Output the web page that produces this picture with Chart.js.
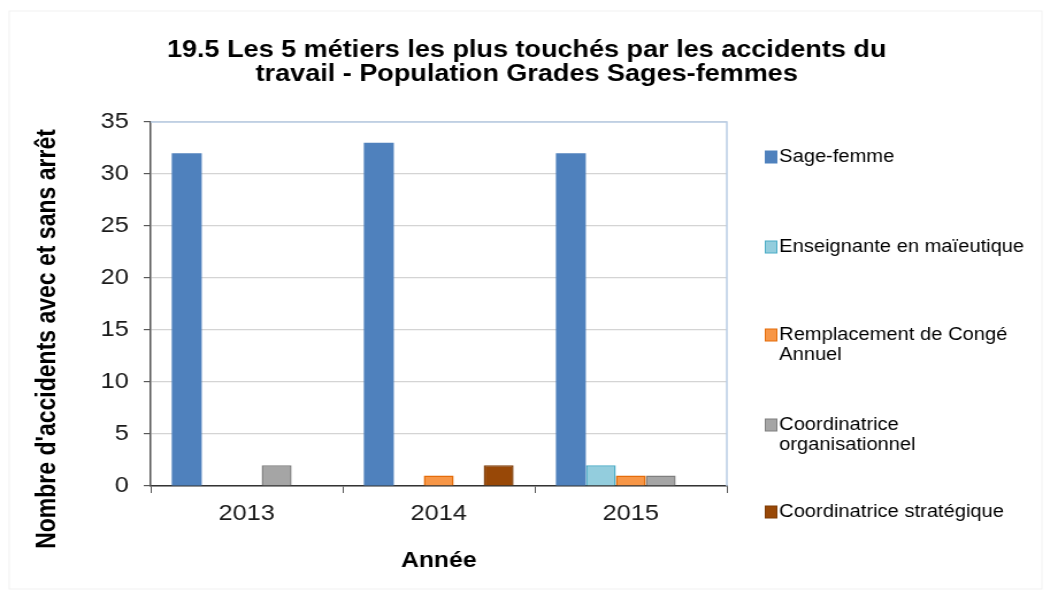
<!DOCTYPE html>
<html lang="fr">
<head>
<meta charset="utf-8">
<title>19.5 Les 5 métiers les plus touchés par les accidents du travail</title>
<script src="https://cdn.jsdelivr.net/npm/chart.js@4.4.1/dist/chart.umd.min.js"></script>
<style>
  html, body { margin: 0; padding: 0; background: #fff; overflow: hidden; }
  /* the original picture is a little wider than tall in its glyphs, so the whole chart is stretched */
  #wrap { width: 915px; height: 598px; transform: scaleX(1.15); transform-origin: 0 0; }
</style>
</head>
<body>
<div id="wrap"><canvas id="chart" width="915" height="598"></canvas></div>
<script>
const years = ['2013', '2014', '2015'];
const sageFemme = [32, 33, 32];
const enseignante = [0, 0, 2];
const remplacement = [0, 1, 1];
const coordOrganisation = [2, 0, 1];
const coordStrategique = [0, 2, 0];
const seriesNames = [
  'Sage-femme',
  'Enseignante en maïeutique',
  ['Remplacement de Congé', 'Annuel'],
  ['Coordinatrice', 'organisationnel'],
  'Coordinatrice stratégique'
];
const yTickValues = [0, 5, 10, 15, 20, 25, 30, 35];

const titleLines = ['19.5 Les 5 métiers les plus touchés par les accidents du', 'travail - Population Grades Sages-femmes'];
const yTitle = "Nombre d'accidents avec et sans arrêt";
const xTitle = 'Année';

const fillColors = ['#4F81BD', '#93CDDD', '#F79646', '#A5A5A5', '#984807'];
const edgeColors = ['#4F81BD', '#4BACC6', '#E46C0A', '#7F7F7F', '#7F3C06'];

const seriesValues = [sageFemme, enseignante, remplacement, coordOrganisation, coordStrategique];

const textPlugin = {
  id: 'textPlugin',
  beforeDatasetsDraw(chart) {
    const { ctx, chartArea: a } = chart;
    ctx.save();
    ctx.strokeStyle = '#B9CDE5';
    ctx.lineWidth = 1.5;
    ctx.beginPath();
    ctx.moveTo(a.left, a.top);
    ctx.lineTo(a.right, a.top);
    ctx.lineTo(a.right, a.bottom);
    ctx.stroke();
    ctx.restore();
  },
  afterDraw(chart) {
    const ctx = chart.ctx;
    ctx.save();

    // faint outer frame
    ctx.strokeStyle = '#f1f1f1';
    ctx.lineWidth = 1;
    ctx.strokeRect(8, 11, 898, 578);

    // main title
    ctx.fillStyle = '#000';
    ctx.textAlign = 'center';
    ctx.textBaseline = 'alphabetic';
    ctx.font = 'bold 23.5px "Liberation Sans", Arial, sans-serif';
    ctx.fillText(titleLines[0], 458, 57);
    ctx.fillText(titleLines[1], 458, 81);

    // y axis title
    ctx.save();
    ctx.translate(42, 339);
    ctx.rotate(-Math.PI / 2);
    ctx.textBaseline = 'middle';
    ctx.font = 'bold 23px "Liberation Sans", Arial, sans-serif';
    ctx.fillText(yTitle, 0, 0);
    ctx.restore();

    // legend
    const rowY = [157, 247, 335, 425, 512];
    ctx.textAlign = 'left';
    ctx.textBaseline = 'middle';
    ctx.font = '17.5px "Liberation Sans", Arial, sans-serif';
    chart.data.datasets.forEach((ds, i) => {
      const y = rowY[i];
      ctx.fillStyle = ds.backgroundColor;
      ctx.fillRect(665.5, y - 6, 10, 12);
      ctx.strokeStyle = ds.borderColor;
      ctx.lineWidth = 1;
      ctx.strokeRect(665.5, y - 6, 10, 12);
      ctx.fillStyle = '#000';
      const lines = Array.isArray(ds.label) ? ds.label : [ds.label];
      lines.forEach((t, k) => ctx.fillText(t, 677.5, y + k * 20));
    });

    ctx.restore();
  }
};

new Chart(document.getElementById('chart'), {
  type: 'bar',
  data: {
    labels: years,
    datasets: seriesValues.map((vals, i) => ({
      label: seriesNames[i],
      data: vals,
      backgroundColor: fillColors[i],
      borderColor: edgeColors[i],
      borderWidth: i === 0 ? 0 : 1.5,
      categoryPercentage: 0.78,
      barPercentage: 1
    }))
  },
  options: {
    responsive: false,
    animation: false,
    devicePixelRatio: 1,
    layout: { padding: { left: 0, right: 283, top: 122, bottom: 0 } },
    plugins: {
      legend: { display: false },
      title: { display: false },
      tooltip: { enabled: false }
    },
    scales: {
      x: {
        afterFit(scale) { scale.height = 112; },
        grid: { drawOnChartArea: false, drawTicks: true, tickLength: 7, color: '#595959', offset: true },
        border: { display: true, color: '#333333', width: 1.5 },
        ticks: {
          color: '#1a1a1a',
          padding: 8,
          font: { family: '"Liberation Sans", Arial, sans-serif', size: 22 }
        },
        title: {
          display: true,
          text: xTitle,
          color: '#000',
          padding: { top: 0, bottom: 24 },
          font: { family: '"Liberation Sans", Arial, sans-serif', size: 21.5, weight: 'bold' }
        }
      },
      y: {
        min: 0,
        max: 35,
        afterFit(scale) { scale.width = 131; },
        afterBuildTicks(scale) { scale.ticks = yTickValues.map(v => ({ value: v })); },
        grid: { color: '#D4D4D4', lineWidth: 1.2, tickColor: '#595959', tickLength: 6 },
        border: { display: true, color: '#595959', width: 1.5 },
        ticks: {
          color: '#1a1a1a',
          padding: 13,
          font: { family: '"Liberation Sans", Arial, sans-serif', size: 22 }
        }
      }
    }
  },
  plugins: [textPlugin]
});
</script>
</body>
</html>
